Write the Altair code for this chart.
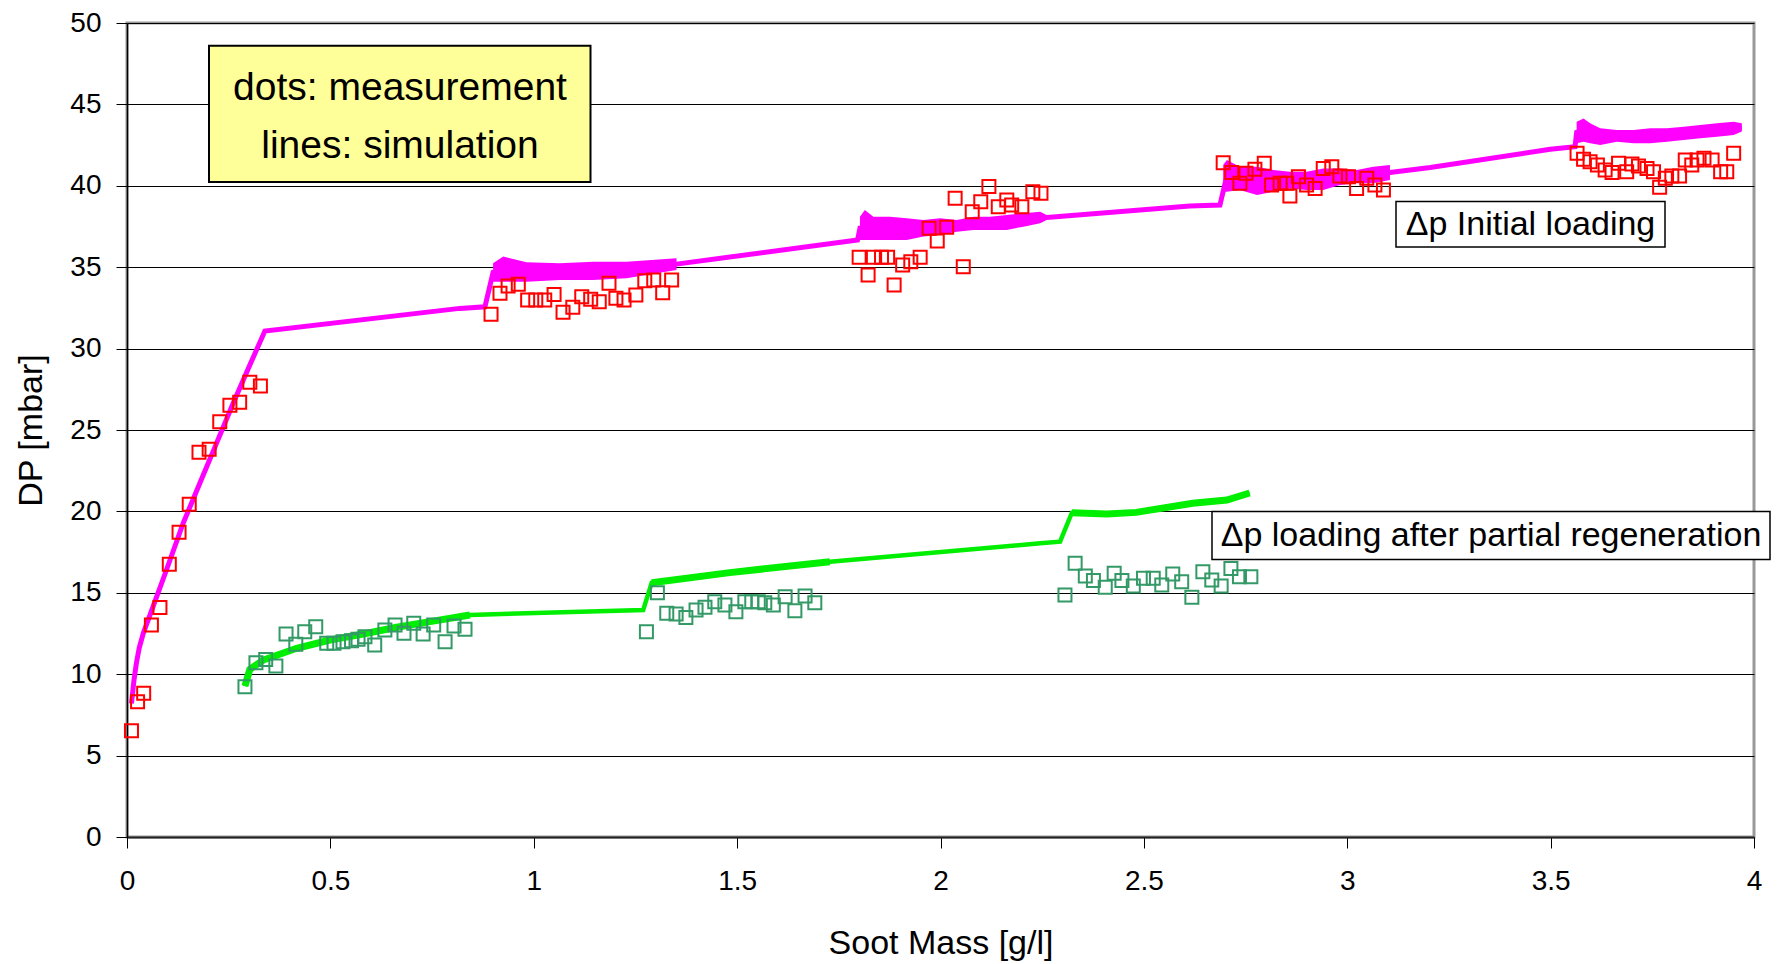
import altair as alt
import pandas as pd

# ---- measured pressure drop, initial loading (red squares) ----
init_meas_mass = [
    0.011, 0.026, 0.041, 0.060, 0.081, 0.104, 0.128, 0.153, 0.177, 0.202, 0.228, 0.253, 0.277, 0.302, 0.328,
    0.895, 0.917, 0.937, 0.962, 0.985, 1.005, 1.027, 1.050, 1.072, 1.096, 1.118, 1.140, 1.161, 1.185, 1.202,
    1.222, 1.251, 1.273, 1.295, 1.317, 1.339,
    1.800, 1.822, 1.835, 1.855, 1.870, 1.886, 1.907, 1.927, 1.950, 1.972, 1.992, 2.015, 2.036, 2.056, 2.078,
    2.099, 2.119, 2.142, 2.163, 2.175, 2.200, 2.227, 2.247,
    2.695, 2.716, 2.736, 2.751, 2.773, 2.796, 2.814, 2.835, 2.851, 2.859, 2.880, 2.900, 2.921, 2.941, 2.962,
    2.982, 3.003, 3.023, 3.048, 3.068, 3.089,
    3.565, 3.581, 3.597, 3.615, 3.634, 3.651, 3.667, 3.687, 3.700, 3.716, 3.737, 3.753, 3.768, 3.782, 3.798,
    3.817, 3.831, 3.847, 3.860, 3.877, 3.897, 3.918, 3.933, 3.950,
]
init_meas_dp = [
    6.53, 8.31, 8.83, 13.02, 14.10, 16.75, 18.72, 20.44, 23.63, 23.81, 25.51, 26.52, 26.70, 27.93, 27.70,
    32.11, 33.40, 33.84, 33.95, 32.99, 32.99, 32.99, 33.33, 32.23, 32.54, 33.19, 33.03, 32.88, 34.01, 33.09,
    32.99, 33.29, 34.17, 34.21, 33.43, 34.21,
    35.61, 34.52, 35.61, 35.61, 35.61, 33.91, 35.14, 35.34, 35.61, 37.39, 36.61, 37.45, 39.23, 35.03, 38.41,
    39.02, 39.95, 38.72, 39.13, 38.82, 38.72, 39.64, 39.54,
    41.42, 40.81, 40.15, 40.77, 41.01, 41.38, 40.05, 40.15, 40.15, 39.37, 40.56, 40.05, 39.84, 41.07, 41.17,
    40.60, 40.56, 39.84, 40.46, 40.05, 39.74,
    42.00, 41.63, 41.48, 41.28, 40.97, 40.81, 41.38, 40.87, 41.34, 41.22, 41.07, 40.87, 39.91, 40.46, 40.60,
    40.60, 41.58, 41.28, 41.58, 41.69, 41.58, 40.87, 40.87, 42.00,
]

# ---- measured pressure drop after partial regeneration (green squares) ----
regen_meas_mass = [
    0.290, 0.317, 0.341, 0.366, 0.391, 0.415, 0.437, 0.464, 0.491, 0.509, 0.531, 0.552, 0.568, 0.585, 0.609,
    0.634, 0.659, 0.681, 0.705, 0.728, 0.754, 0.782, 0.804, 0.831,
    1.277, 1.304, 1.327, 1.350, 1.374, 1.399, 1.421, 1.445, 1.470, 1.497, 1.519, 1.536, 1.552, 1.568, 1.589,
    1.618, 1.642, 1.667, 1.691,
    2.306, 2.331, 2.356, 2.376, 2.405, 2.427, 2.446, 2.474, 2.499, 2.523, 2.544, 2.571, 2.593, 2.618, 2.645,
    2.667, 2.690, 2.714, 2.735, 2.763,
]
regen_meas_dp = [
    9.23, 10.71, 10.91, 10.50, 12.47, 11.84, 12.61, 12.92, 11.90, 11.90, 12.00, 12.06, 12.14, 12.30, 11.79,
    12.71, 13.02, 12.51, 13.13, 12.47, 13.02, 12.00, 12.96, 12.76,
    12.61, 15.01, 13.74, 13.70, 13.49, 13.94, 14.11, 14.45, 14.25, 13.84, 14.45, 14.45, 14.45, 14.39, 14.25,
    14.76, 13.90, 14.80, 14.39,
    14.86, 16.81, 16.03, 15.75, 15.34, 16.20, 15.75, 15.42, 15.89, 15.89, 15.48, 16.15, 15.68, 14.72, 16.30,
    15.79, 15.42, 16.50, 15.99, 15.99,
]

# ---- simulated curves ----
init_sim_mass = [
    0.011, 0.017, 0.023, 0.030, 0.040, 0.064, 0.097, 0.138, 0.179, 0.220, 0.261, 0.302, 0.339,
    0.818, 0.880,
    0.900, 0.949, 1.064, 1.146, 1.228, 1.310, 1.351,
    1.796,
    1.802, 1.835, 1.876, 1.917, 1.958, 1.999, 2.040, 2.081, 2.122, 2.163, 2.204, 2.245, 2.261,
    2.613, 2.687,
    2.704, 2.736, 2.778, 2.818, 2.859, 2.900, 2.941, 2.982, 3.023, 3.064, 3.105,
    3.204, 3.499, 3.560,
    3.564, 3.581, 3.622, 3.663, 3.704, 3.745, 3.786, 3.827, 3.868, 3.909, 3.950, 3.970,
]
init_sim_dp = [
    8.20, 9.60, 10.67, 11.60, 12.51, 14.15, 16.40, 19.27, 21.73, 24.18, 26.64, 28.99, 31.08,
    32.47, 32.57,
    34.68, 34.88, 34.73, 34.78, 34.83, 34.96, 35.19,
    36.67,
    37.39, 37.39, 37.39, 37.34, 37.39, 37.49, 37.54, 37.70, 37.70, 37.75, 37.90, 38.06, 38.06,
    38.76, 38.82,
    40.61, 40.46, 40.30, 40.30, 40.36, 40.30, 40.41, 40.56, 40.56, 40.66, 40.82,
    41.13, 42.24, 42.40,
    43.28, 43.43, 43.02, 43.07, 43.02, 43.07, 43.12, 43.22, 43.33, 43.43, 43.53, 43.58,
]

regen_sim_mass = [
    0.290, 0.302, 0.335, 0.417, 0.499, 0.581, 0.663, 0.745, 0.843,
    1.269, 1.290, 1.482, 1.728,
    2.245, 2.294, 2.323, 2.409, 2.481, 2.620, 2.704, 2.760,
]
regen_sim_dp = [
    9.27, 10.30, 10.87, 11.59, 12.10, 12.47, 12.88, 13.23, 13.64,
    13.94, 15.62, 16.24, 16.91,
    18.04, 18.14, 19.92, 19.84, 19.94, 20.50, 20.70, 21.13,
]

# ---- scatter envelope of the simulated initial-loading curve on each plateau ----
band_plateau = [1] * 7 + [2] * 14 + [3] * 12 + [4] * 13
band_mass = [
    0.900, 0.925, 0.982, 1.064, 1.146, 1.228, 1.351,
    1.802, 1.814, 1.835, 1.876, 1.917, 1.958, 1.999, 2.040, 2.081, 2.122, 2.163, 2.204, 2.245, 2.261,
    2.695, 2.704, 2.736, 2.778, 2.818, 2.859, 2.900, 2.941, 2.982, 3.023, 3.064, 3.105,
    3.564, 3.581, 3.597, 3.622, 3.663, 3.704, 3.745, 3.786, 3.827, 3.868, 3.909, 3.950, 3.970,
]
band_low = [
    34.11, 34.11, 34.11, 34.21, 34.21, 34.32, 34.83,
    36.67, 36.67, 36.67, 36.67, 36.67, 36.88, 36.98, 37.18, 37.29, 37.29, 37.29, 37.49, 37.70, 37.90,
    39.64, 39.64, 39.74, 39.43, 39.64, 39.84, 39.74, 39.74, 40.05, 40.15, 40.15, 40.36,
    42.61, 42.71, 42.61, 42.51, 42.71, 42.61, 42.61, 42.71, 42.81, 42.92, 43.02, 43.12, 43.33,
]
band_high = [
    35.24, 35.65, 35.30, 35.24, 35.34, 35.34, 35.55,
    38.10, 38.51, 38.10, 38.10, 38.00, 37.90, 38.00, 37.90, 38.10, 38.10, 38.21, 38.31, 38.41, 38.21,
    41.28, 41.58, 41.17, 41.17, 40.97, 40.87, 40.87, 41.07, 41.07, 40.97, 41.17, 41.28,
    43.94, 44.14, 43.84, 43.53, 43.43, 43.43, 43.53, 43.53, 43.63, 43.73, 43.84, 43.94, 43.84,
]

FONT = "'Liberation Sans', Arial, sans-serif"

PLOT_W, PLOT_H = 1627, 814

init_meas = pd.DataFrame({"mass": init_meas_mass, "dp": init_meas_dp})
regen_meas = pd.DataFrame({"mass": regen_meas_mass, "dp": regen_meas_dp})
init_sim = pd.DataFrame({"mass": init_sim_mass, "dp": init_sim_dp})
regen_sim = pd.DataFrame({"mass": regen_sim_mass, "dp": regen_sim_dp})
band = pd.DataFrame({"mass": band_mass, "low": band_low, "high": band_high, "plateau": band_plateau})

x_scale = alt.Scale(domain=[0, 4], nice=False, zero=False)
y_scale = alt.Scale(domain=[0, 50], nice=False)

x_axis = alt.Axis(
    values=[0, 0.5, 1, 1.5, 2, 2.5, 3, 3.5, 4], format="~g", grid=False, labelFlush=False,
    tickSize=11, tickColor="black", domainColor="#222222", domainWidth=2,
    labelFont=FONT, labelFontSize=28, labelColor="black", labelPadding=19,
    title="Soot Mass [g/l]", titleFont=FONT, titleFontSize=34, titleFontWeight="normal",
    titleColor="black", titleY=106, titleBaseline="middle",
)
y_axis = alt.Axis(
    values=list(range(0, 51, 5)), grid=True, gridColor="black", gridWidth=1,
    tickSize=11, tickColor="black", domainColor="black", domainWidth=1.5,
    labelFont=FONT, labelFontSize=28, labelColor="black", labelPadding=15,
    title="DP [mbar]", titleFont=FONT, titleFontSize=34, titleFontWeight="normal",
    titleColor="black", titleX=-96, titleY=PLOT_H / 2, titleBaseline="middle",
)

X = alt.X("mass:Q", scale=x_scale, axis=x_axis)
Y = alt.Y("dp:Q", scale=y_scale, axis=y_axis)

# simulation: initial loading
init_band = alt.Chart(band).mark_area(color="#FF00FF", opacity=1).encode(
    x=alt.X("mass:Q", scale=x_scale),
    y=alt.Y("low:Q", scale=y_scale),
    y2="high:Q",
    detail="plateau:N",
)
init_line = alt.Chart(init_sim).mark_line(color="#FF00FF", strokeWidth=5).encode(x=X, y=Y)

# simulation: after partial regeneration
regen_line = alt.Chart(regen_sim).mark_line(color="#00EE00", strokeWidth=4.5).encode(
    x=alt.X("mass:Q", scale=x_scale), y=alt.Y("dp:Q", scale=y_scale)
)
regen_thick = (
    alt.Chart(regen_sim)
    .transform_calculate(
        seg="datum.mass <= 0.85 ? 1 : (datum.mass >= 1.285 && datum.mass <= 1.73 ? 2 : (datum.mass >= 2.32 ? 3 : 0))"
    )
    .transform_filter("datum.seg > 0")
    .mark_line(color="#00EE00", strokeWidth=7)
    .encode(x=alt.X("mass:Q", scale=x_scale), y=alt.Y("dp:Q", scale=y_scale), detail="seg:N")
)

# measurements
init_pts = alt.Chart(init_meas).mark_point(
    shape="square", filled=False, size=169, strokeWidth=2, color="#FF0000", opacity=1
).encode(x=alt.X("mass:Q", scale=x_scale), y=alt.Y("dp:Q", scale=y_scale))
regen_pts = alt.Chart(regen_meas).mark_point(
    shape="square", filled=False, size=169, strokeWidth=2, color="#339966", opacity=1
).encode(x=alt.X("mass:Q", scale=x_scale), y=alt.Y("dp:Q", scale=y_scale))

# annotation boxes
def box(x0, x1, y0, y1, fill, width):
    return alt.Chart(pd.DataFrame({"k": [0]})).mark_rect(
        fill=fill, stroke="black", strokeWidth=width
    ).encode(x=alt.value(x0), x2=alt.value(x1), y=alt.value(y0), y2=alt.value(y1))

def label(text, x, y, size):
    return alt.Chart(pd.DataFrame({"t": [text]})).mark_text(
        font=FONT, fontSize=size, color="black", align="center", baseline="middle"
    ).encode(x=alt.value(x), y=alt.value(y), text="t:N")

legend_box = box(82, 463.5, 22.7, 159, "#FFFF99", 2)
legend_l1 = label("dots: measurement", 273, 65, 39)
legend_l2 = label("lines: simulation", 273, 123, 39)

init_box = box(1269, 1538, 178.5, 224, "white", 1.5)
init_lbl = label("Δp Initial loading", 1403.5, 201.5, 34)

regen_box = box(1085, 1643, 488.5, 536.5, "white", 1.5)
regen_lbl = label("Δp loading after partial regeneration", 1364, 512.5, 34)

chart = (
    alt.layer(
        init_line, init_band, regen_line, regen_thick, init_pts, regen_pts,
        legend_box, legend_l1, legend_l2, init_box, init_lbl, regen_box, regen_lbl,
    )
    .properties(
        width=PLOT_W, height=PLOT_H,
        autosize=alt.AutoSizeParams(type="none"),
        padding={"left": 127, "top": 23, "right": 27, "bottom": 127},
        background="white",
    )
    .configure_view(stroke="#999999", strokeWidth=3)
)

chart.save("out.html", embed_options={"renderer": "svg", "actions": False})
